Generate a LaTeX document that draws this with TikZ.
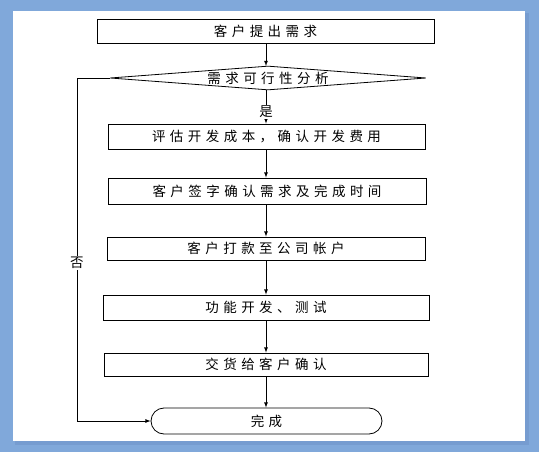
\documentclass[tikz,border=0pt]{standalone}
\usepackage{fontspec}
\newfontfamily\cjk[LetterSpace=33]{Noto Sans CJK SC}
\usetikzlibrary{arrows,shapes.geometric}
\definecolor{pageblue}{RGB}{128,168,218}
\definecolor{edgeblue}{RGB}{118,156,208}
\tikzset{
 stepbox/.style={rectangle,draw,line width=.8pt,minimum height=24pt,inner sep=0pt,
  font=\cjk\fontsize{13.5}{13.5}\selectfont},
 tag/.style={fill=white,inner sep=1pt,font=\cjk\fontsize{13.5}{13.5}\selectfont}
}
\begin{document}
\begin{tikzpicture}[x=1pt,y=-1pt,>=latex,line width=.8pt]
\useasboundingbox(0,0) rectangle (539,452);
%page
\fill[pageblue](0,0) rectangle (539,452);
\fill[edgeblue](15,13) rectangle (529,445);
\fill[white](13,11) rectangle (525,441);
%steps
\node[stepbox,minimum width=337pt]at(265.5,31)(ask){客户提出需求};
\node[diamond,draw,minimum width=316pt,minimum height=24pt,inner sep=0pt]at(268,78)(check){};
\node[font=\cjk\fontsize{13.5}{13.5}\selectfont]at(check){需求可行性分析};
\node[stepbox,minimum width=317pt,minimum height=25pt]at(266.5,136.5)(cost){评估开发成本，确认开发费用};
\node[stepbox,minimum width=318pt,minimum height=26pt]at(267,191)(sign){客户签字确认需求及完成时间};
\node[stepbox,minimum width=318pt,minimum height=23pt]at(266,248.5)(pay){客户打款至公司帐户};
\node[stepbox,minimum width=326pt,minimum height=25pt]at(266,307.5)(dev){功能开发、测试};
\node[stepbox,minimum width=324pt,minimum height=23pt]at(266,364.5)(give){交货给客户确认};
\node[stepbox,rounded corners=13pt,minimum width=231pt,minimum height=26pt]at(266.5,421)(done){完成};
%arrows
\coordinate(nocorner)at(77,78);
\draw[->](ask.south-|266,0)--(266,66);
\draw[->](266,90)--(cost.north-|266,0) node[tag,pos=.65]{是};
\draw[->](cost.south-|266,0)--(sign.north-|266,0);
\draw[->](sign.south-|266,0)--(pay.north-|266,0);
\draw[->](pay.south-|266,0)--(dev.north-|266,0);
\draw[->](dev.south-|266,0)--(give.north-|266,0);
\draw[->](give.south-|266,0)--(done.north-|266,0);
\draw[->](check.west)--(nocorner)--(nocorner|-done.west) node[tag,pos=.54]{否}--(done.west);
\end{tikzpicture}
\end{document}
